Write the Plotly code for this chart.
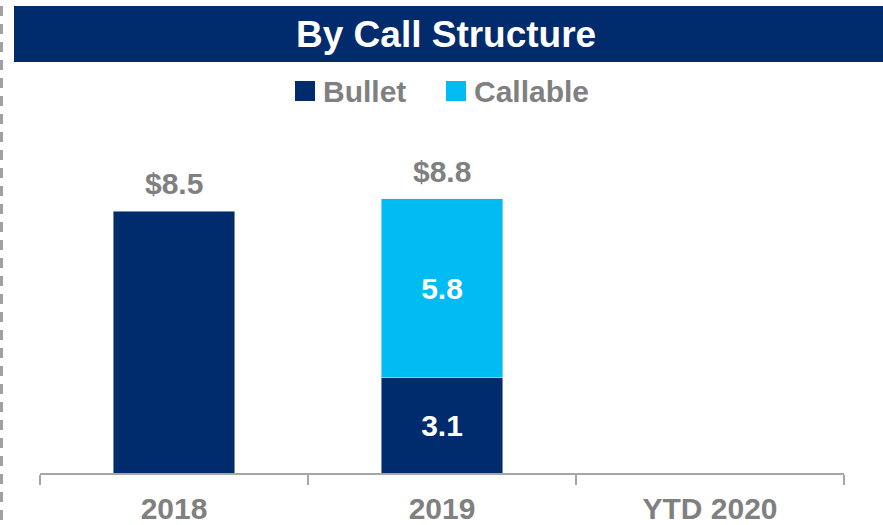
import plotly.graph_objects as go

# ---- data ----
categories = ["2018", "2019", "YTD 2020"]
bullet = [8.5, 3.1, None]
callable_ = [None, 5.8, None]
bullet_labels = ["", "3.1", ""]
callable_labels = ["", "5.8", ""]
totals = [8.5, 8.8, None]
series_names = ["Bullet", "Callable"]
title_text = "By Call Structure"

# ---- style ----
NAVY = "#002B6C"
CYAN = "#00BCF2"
GRAY = "#808080"
AXIS = "#A6A6A6"
FONT = "Liberation Sans, Arial, sans-serif"

W, H = 883, 525
L, R, T, B = 40, 39, 165, 52
PW, PH = W - L - R, H - T - B


def px2x(px):
    return (px - L) / PW


def px2y(py):
    return (H - B - py) / PH


fig = go.Figure()
fig.add_trace(go.Bar(
    x=categories, y=bullet, name=series_names[0], marker_color=NAVY,
    text=bullet_labels, textposition="inside", insidetextanchor="middle",
    textangle=0, textfont=dict(family=FONT, size=30, color="white", weight="bold"),
    hoverinfo="skip",
))
fig.add_trace(go.Bar(
    x=categories, y=callable_, name=series_names[1], marker_color=CYAN,
    text=callable_labels, textposition="inside", insidetextanchor="middle",
    textangle=0, textfont=dict(family=FONT, size=30, color="white", weight="bold"),
    hoverinfo="skip",
))

annotations = []
# totals above the bars (x given as category index)
for i, (b, cl, t) in enumerate(zip(bullet, callable_, totals)):
    if t is None:
        continue
    top = (b or 0) + (cl or 0)
    annotations.append(dict(
        x=i, y=top, xref="x", yref="y", text="$" + f"{t:.1f}", showarrow=False,
        xanchor="center", yanchor="bottom", yshift=9,
        font=dict(family=FONT, size=30, color=GRAY, weight="bold"),
    ))

# title banner and dashed separator
shapes = [
    dict(type="rect", xref="paper", yref="paper",
         x0=px2x(14), x1=px2x(884), y0=px2y(62), y1=px2y(6),
         fillcolor=NAVY, line=dict(width=0), layer="below"),
    dict(type="line", xref="paper", yref="paper",
         x0=px2x(1.5), x1=px2x(1.5), y0=px2y(6), y1=px2y(525),
         line=dict(color="#A0A0A0", width=3, dash="10px,8px")),
]
annotations.append(dict(
    x=px2x(446), y=px2y(34), xref="paper", yref="paper", text=title_text,
    showarrow=False, xanchor="center", yanchor="middle",
    font=dict(family=FONT, size=37, color="white", weight="bold"),
))

# manual legend
legend_items = [(series_names[0], NAVY, 295), (series_names[1], CYAN, 446)]
for name, col, x0 in legend_items:
    shapes.append(dict(type="rect", xref="paper", yref="paper",
                       x0=px2x(x0), x1=px2x(x0 + 20), y0=px2y(101), y1=px2y(81),
                       fillcolor=col, line=dict(width=0)))
    annotations.append(dict(
        x=px2x(x0 + 26), y=px2y(92), xref="paper", yref="paper", text=name,
        showarrow=False, xanchor="left", yanchor="middle",
        font=dict(family=FONT, size=30, color=GRAY, weight="bold"),
    ))

fig.update_layout(
    width=W, height=H, barmode="stack", bargap=0.545,
    margin=dict(l=L, r=R, t=T, b=B, autoexpand=False),
    plot_bgcolor="white", paper_bgcolor="white",
    showlegend=False,
    shapes=shapes, annotations=annotations,
    xaxis=dict(
        type="category", categoryorder="array", categoryarray=categories,
        range=[-0.5, 2.5], automargin=False,
        showline=True, linecolor=AXIS, linewidth=2,
        ticks="outside", tickson="boundaries", ticklen=10, tickwidth=2, tickcolor=AXIS,
        ticklabelstandoff=8,
        tickfont=dict(family=FONT, size=30, color=GRAY, weight="bold"),
        showgrid=False, zeroline=False,
    ),
    yaxis=dict(range=[0, 10], visible=False, showgrid=False, zeroline=False,
               automargin=False),
)

fig.write_html("out.html", config={"displayModeBar": False},
               post_script="document.body.style.margin='0';")
